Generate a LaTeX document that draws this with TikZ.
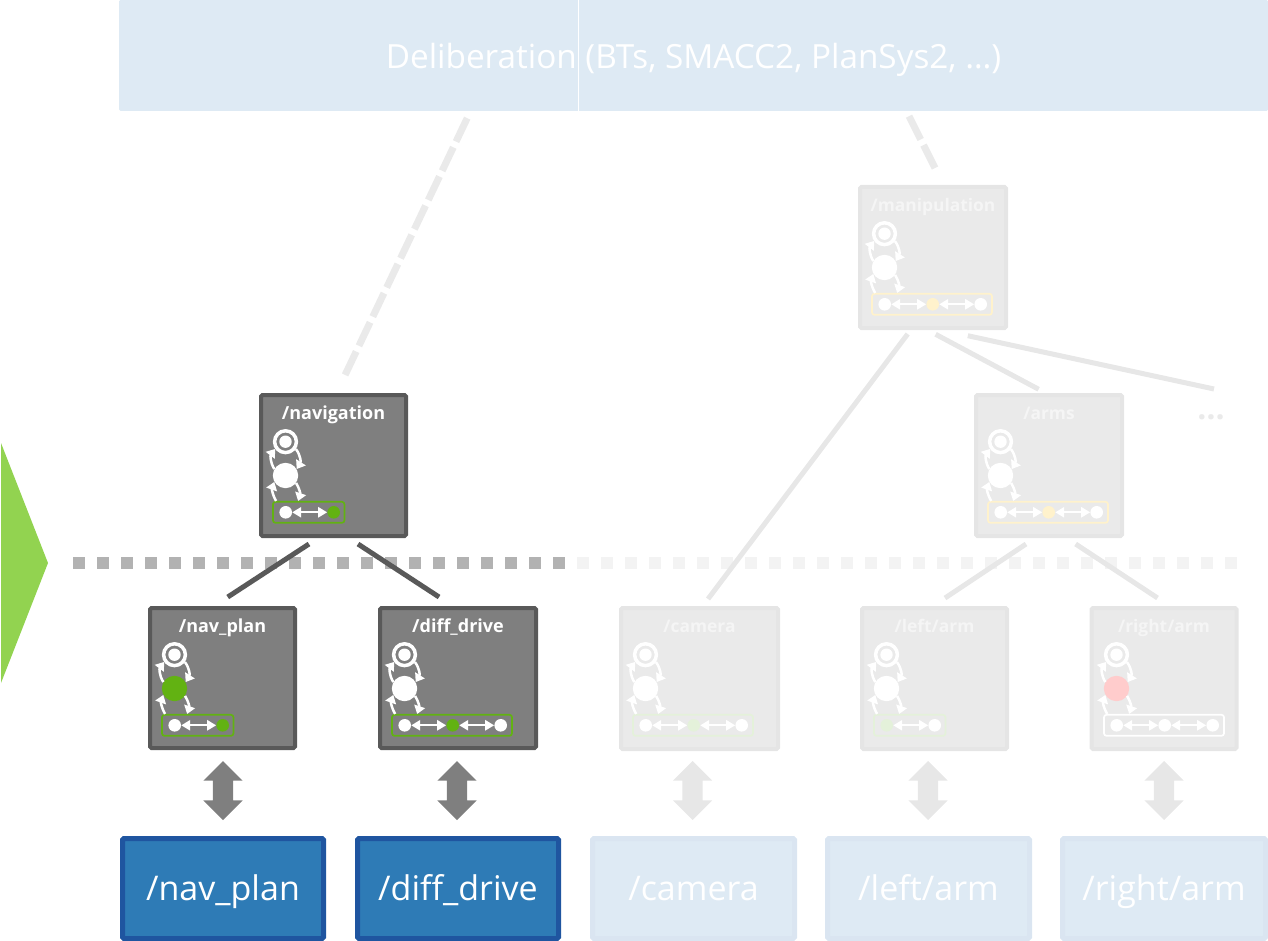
\documentclass[tikz,border=0pt]{standalone}
\usepackage{fontspec}
\setmainfont{Open Sans}
\usetikzlibrary{arrows.meta,shapes.arrows}

\definecolor{ctlgray}{HTML}{7F7F7F}
\definecolor{ctlborder}{HTML}{595959}
\definecolor{palegray}{HTML}{EAEAEA}
\definecolor{paleborder}{HTML}{E5E5E5}
\definecolor{palelink}{HTML}{E7E7E7}
\definecolor{hwblue}{HTML}{2E7BB6}
\definecolor{hwborder}{HTML}{1F55A0}
\definecolor{paleblue}{HTML}{DEEAF4}
\definecolor{paleblueb}{HTML}{DAE5F1}
\definecolor{activegreen}{HTML}{62B212}
\definecolor{palegreen}{HTML}{E4F1DA}
\definecolor{paleyellow}{HTML}{FFF2CC}
\definecolor{palered}{HTML}{FFCCCC}
\definecolor{levelgreen}{HTML}{92D350}

% controller box with its title
\newcommand{\ctlbox}[7]{
  \node [ctl#2, minimum width=#5-#3-4, minimum height=#6-#4-4] (#1) at ({(#3+#5)/2},{(#4+#6)/2}) {};
  \node [title#2] (#1t) at ({(#3+#5)/2},#4+18.7) {#7};
}
% interface states with two entries
\newcommand{\queuetwo}[6]{
  \node [queue, draw=#4, minimum width=71.5] (#1q) at (#2+49.7,#3+119.3) {};
  \node [dot, fill=#5] (#1qa) at (#2+26.7,#3+119.3) {};
  \node [dot, fill=#6] (#1qb) at (#2+74.7,#3+119.3) {};
  \draw [flow] (#1qa) to (#1qb);
}
% interface states with three entries
\newcommand{\queuethree}[7]{
  \node [queue, draw=#4, minimum width=120] (#1q) at (#2+74,#3+119.3) {};
  \node [dot, fill=#5] (#1qa) at (#2+26.7,#3+119.3) {};
  \node [dot, fill=#6] (#1qb) at (#2+74.7,#3+119.3) {};
  \node [dot, fill=#7] (#1qc) at (#2+122.7,#3+119.3) {};
  \draw [flow] (#1qa) to (#1qb); \draw [flow] (#1qb) to (#1qc);
}
% lifecycle circles above the interface states
\newcommand{\lifecycle}[4]{
  \node [ringst] (#1a) at (#2+26.5,#3+48.7) {};
  \node [innerst] (#1i) at (#1a) {};
  \node [fullst, fill=#4] (#1b) at (#2+26.5,#3+82.5) {};
  \draw [cycle] (#1a.-35) to [bend left=35] (#1b.30);
  \draw [cycle] (#1b.150) to [bend left=35] (#1a.-145);
  \draw [cycle] (#1b.-35) to [bend left=25] ([xshift=26]#1q.north west);
  \draw [cycle] ([xshift=4]#1q.north west) to [bend left=25] (#1b.-150);
}

\begin{document}
\begin{tikzpicture}[x=1pt, y=-1pt,
    ctldark/.style={rectangle, draw=ctlborder, fill=ctlgray, line width=4, rounded corners=1.5, inner sep=0},
    ctlpale/.style={rectangle, draw=paleborder, fill=palegray, line width=4, rounded corners=1.5, inner sep=0},
    titledark/.style={font=\fontsize{18}{20}\selectfont\bfseries, text=white, inner sep=0, text height=17, text depth=2},
    titlepale/.style={font=\fontsize{17.4}{20}\selectfont\bfseries, text=white!96!black, inner sep=0, text height=17, text depth=2},
    hwdark/.style={rectangle, draw=hwborder, fill=hwblue, line width=5, rounded corners=1.5, text=white,
      font=\fontsize{34}{36}\selectfont, inner sep=0, text height=30, text depth=6},
    hwpale/.style={rectangle, draw=paleblueb, fill=paleblue, line width=5, rounded corners=1.5, text=white,
      font=\fontsize{34}{36}\selectfont, inner sep=0, text height=30, text depth=6},
    queue/.style={rectangle, rounded corners=2.5, line width=1.7, minimum height=21, inner sep=0},
    dot/.style={circle, minimum size=12.6, inner sep=0},
    ringst/.style={circle, draw=white, line width=3.5, minimum size=21.8, inner sep=0},
    innerst/.style={circle, fill=white, minimum size=12.4, inner sep=0},
    fullst/.style={circle, minimum size=25.4, inner sep=0},
    flow/.style={white, line width=2.3, {Triangle[length=9,width=10]}-{Triangle[length=9,width=10]}},
    cycle/.style={white, line width=2.5, -{Triangle[length=8,width=11]}},
    iodark/.style={double arrow, shape border rotate=90, fill=ctlgray, minimum height=59, minimum width=39,
      double arrow head extend=9.5, inner xsep=10, inner ysep=0},
    iopale/.style={double arrow, shape border rotate=90, fill=palelink, minimum height=59, minimum width=39,
      double arrow head extend=9.5, inner xsep=10, inner ysep=0},
    linkdark/.style={draw=ctlborder, line width=5},
    linkpale/.style={draw=palelink, line width=5},
    linkdash/.style={draw=palegray, line width=7, dash pattern=on 26 off 6.3}]
  \useasboundingbox (0,0) rectangle (1268,941);

  \fill [levelgreen] (1,443) -- (48,563) -- (1,683) -- cycle;
  \draw [ctlgray!60, line width=12, dash pattern=on 12.3 off 11.7] (73,563) -- (566,563);
  \draw [palegray!60, line width=12, dash pattern=on 12.3 off 11.7] (577,563) -- (1238,563);

  \node [rectangle, fill=paleblue, rounded corners=1.5, minimum width=1149, minimum height=111, inner sep=0,
    text=white, font=\fontsize{33.3}{36}\selectfont, text height=30, text depth=3] (delib) at (693.5,55.5) {Deliberation (BTs, SMACC2, PlanSys2, …)};
  \draw [white, line width=0.8] ([xshift=-115.5]delib.south) -- ([xshift=-115.5]delib.north);

  \ctlbox{navigation}{dark}{259}{393}{408}{538}{/navigation}
  \ctlbox{navplan}{dark}{148}{606}{297}{750}{/nav\_plan}
  \ctlbox{diffdrive}{dark}{378}{606}{538}{750}{/diff\_drive}
  \ctlbox{manipulation}{pale}{858}{185}{1008}{330}{/manipulation}
  \ctlbox{arms}{pale}{974}{393}{1124}{538}{/arms}
  \ctlbox{camera}{pale}{619}{606}{780}{751}{/camera}
  \ctlbox{leftarm}{pale}{860}{606}{1009}{751}{/left/arm}
  \ctlbox{rightarm}{pale}{1089.5}{606}{1238.5}{751}{/right/arm}

  \queuetwo{navigation}{259}{393}{activegreen}{white}{activegreen}
  \queuetwo{navplan}{148}{606}{activegreen}{white}{activegreen}
  \queuethree{diffdrive}{378}{606}{activegreen}{white}{activegreen}{white}
  \queuethree{manipulation}{858}{185}{paleyellow}{white}{paleyellow}{white}
  \queuethree{arms}{974}{393}{paleyellow}{white}{paleyellow}{white}
  \queuethree{camera}{619}{606}{palegreen}{white}{palegreen}{white}
  \queuetwo{leftarm}{860}{606}{palegreen}{palegreen}{white}
  \queuethree{rightarm}{1090}{606}{white}{white}{white}{white}

  \lifecycle{navigation}{259}{393}{white}
  \lifecycle{navplan}{148}{606}{activegreen}
  \lifecycle{diffdrive}{378}{606}{white}
  \lifecycle{manipulation}{858}{185}{white}
  \lifecycle{arms}{974}{393}{white}
  \lifecycle{camera}{619}{606}{white}
  \lifecycle{leftarm}{860}{606}{white}
  \lifecycle{rightarm}{1090}{606}{palered}

  \begin{scope}[every node/.style={hwdark}]
    \node [minimum width=201, minimum height=100] (hwnavplan) at (223,888.5) {/nav\_plan};
    \node [minimum width=201, minimum height=100] (hwdiffdrive) at (458,888.5) {/diff\_drive};
  \end{scope}
  \begin{scope}[every node/.style={hwpale}]
    \node [minimum width=202, minimum height=100] (hwcamera) at (693.5,888.5) {/camera};
    \node [minimum width=202, minimum height=100] (hwleftarm) at (928.5,888.5) {/left/arm};
    \node [minimum width=203, minimum height=100] (hwrightarm) at (1164,888.5) {/right/arm};
  \end{scope}

  \node [iodark] (ionavplan) at (223,790.5) {};
  \node [iodark] (iodiffdrive) at (457,790.5) {};
  \node [iopale] (iocamera) at (692.5,790.5) {};
  \node [iopale] (ioleftarm) at (928,790.5) {};
  \node [iopale] (iorightarm) at (1164,790.5) {};

  \node [text=palegray, font=\fontsize{32}{34}\selectfont\bfseries, inner sep=0] (more) at (1211,417) {…};

  \draw [linkdark, shorten <=11, shorten >=16.4] ([xshift=-15.3]navigation.south) -- ([xshift=-8.5]navplan.north);
  \draw [linkdark, shorten <=11, shorten >=16.4] ([xshift=15.3]navigation.south) -- ([xshift=-5.2]diffdrive.north);
  \draw [linkpale, shorten <=5, shorten >=8.8] ([xshift=-22.3]manipulation.south) -- ([xshift=3.2]camera.north);
  \draw [linkpale, shorten <=9.1, shorten >=7.9] ([xshift=-5.4]manipulation.south) -- ([xshift=-3.4]arms.north);
  \draw [linkpale, shorten <=27] ([xshift=8.4]manipulation.south) -- ([xshift=3,yshift=28]more.center);
  \draw [linkpale, shorten <=10.8, shorten >=14.4] ([xshift=-14]arms.south) -- ([xshift=-1.5]leftarm.north);
  \draw [linkpale, shorten <=10.9, shorten >=14.6] ([xshift=17.5]arms.south) -- ([xshift=5.7]rightarm.north);
  \draw [linkdash, shorten <=7.7, shorten >=20] ([xshift=-223]delib.south) -- ([xshift=3]navigation.north);
  \draw [linkdash, shorten <=5.6, shorten >=19] ([xshift=213]delib.south) -- ([xshift=10.5]manipulation.north);
\end{tikzpicture}
\end{document}
